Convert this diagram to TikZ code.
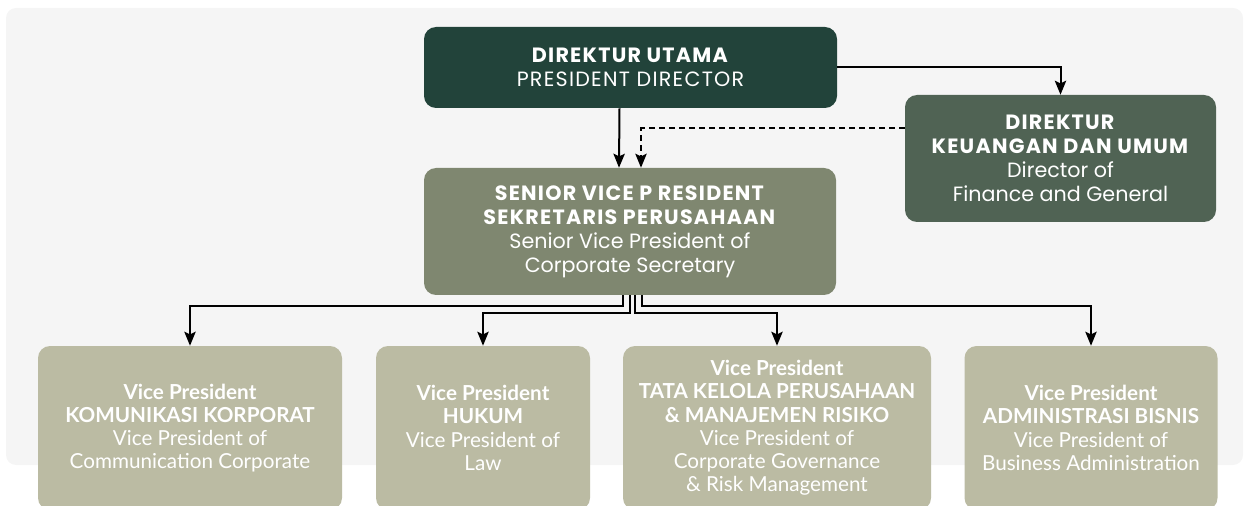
\documentclass[tikz,border=0pt]{standalone}
\usepackage{fontspec}
\usetikzlibrary{calc,arrows.meta}
\newfontfamily\topfont{Poppins}
\newfontfamily\lowfont{Lato}
\newcommand\spc[1]{{\addfontfeature{LetterSpace=6}#1}}
\definecolor{bgc}{HTML}{F5F5F5}
\definecolor{c1}{HTML}{22433A}
\definecolor{c2}{HTML}{506354}
\definecolor{c3}{HTML}{7F8770}
\definecolor{c4}{HTML}{BBBBA3}
\tikzset{
  box/.style={rounded corners=9pt, text=white, align=center, inner sep=0pt},
  topbox/.style={box, font=\topfont\fontsize{15.5}{18}\selectfont},
  lowbox/.style={box, fill=c4, minimum height=123pt, font=\lowfont\fontsize{15.5}{17.4}\selectfont},
  conn/.style={line width=1.5pt, -{Stealth[length=10.5pt,width=8.5pt,inset=2pt]}},
  dconn/.style={conn, dash pattern=on 4.5pt off 3pt}
}
\begin{document}
\begin{tikzpicture}[x=0.75pt,y=-0.75pt]
\useasboundingbox (0,0) rectangle (1247,506);
\clip (0,0) rectangle (1247,506);
\fill[bgc, rounded corners=7.5pt] (6,8) rectangle (1243,465);
\node[topbox, fill=c1, minimum width=309.75pt, minimum height=60.75pt] (top) at (630.5,67.5)
  {\textbf{\spc{DIREKTUR UTAMA}}\\\spc{PRESIDENT DIRECTOR}};
\node[topbox, fill=c2, minimum width=233.25pt, minimum height=95.25pt] (fin) at (1060.5,158.5)
  {\textbf{\spc{DIREKTUR}}\\\textbf{\spc{KEUANGAN DAN UMUM}}\\Director of\\Finance and General};
\node[topbox, fill=c3, minimum width=309pt, minimum height=95.25pt] (svp) at (630,231.5)
  {\textbf{\spc{SENIOR VICE P RESIDENT}}\\\textbf{\spc{SEKRETARIS PERUSAHAAN}}\\Senior Vice President of\\Corporate Secretary};
\node[lowbox, minimum width=228pt] (b1) at (190,428)
  {\textbf{Vice President}\\\textbf{KOMUNIKASI KORPORAT}\\Vice President of\\Communication Corporate};
\node[lowbox, minimum width=160.5pt] (b2) at (483,428)
  {\textbf{Vice President}\\\textbf{HUKUM}\\Vice President of\\Law};
\node[lowbox, minimum width=231pt] (b3) at (777,428)
  {\textbf{Vice President}\\\textbf{TATA KELOLA PERUSAHAAN}\\\textbf{\& MANAJEMEN RISIKO}\\Vice President of\\Corporate Governance\\\& Risk Management};
\node[lowbox, minimum width=189.75pt] (b4) at (1091,428)
  {\textbf{Vice President}\\\textbf{ADMINISTRASI BISNIS}\\Vice President of\\Business Administration};
\draw[conn] (top.east) -| (fin.north);
\draw[conn] ($(top.south)+(-11,0)$) -- ($(svp.north)+(-11,0)$);
\draw[dconn] ($(fin.west)+(0,-30)$) -| ($(svp.north)+(11,0)$);
\draw[conn] ($(svp.south)+(-7,0)$) -- ++(0,11) -| (b1.north);
\draw[conn] ($(svp.south)+(0,0)$) -- ++(0,18) -| (b2.north);
\draw[conn] ($(svp.south)+(5,0)$) -- ++(0,18) -| (b3.north);
\draw[conn] ($(svp.south)+(12,0)$) -- ++(0,11) -| (b4.north);
\end{tikzpicture}
\end{document}
